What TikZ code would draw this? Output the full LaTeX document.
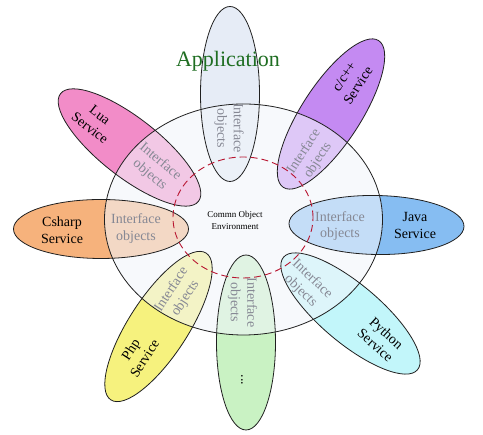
\documentclass[tikz,border=0pt]{standalone}
\usepackage{fontspec}
\setmainfont{Liberation Serif}
\usetikzlibrary{shapes.geometric}
\definecolor{ctop}{HTML}{E6ECF6}
\definecolor{ccpp}{HTML}{C48AF2}
\definecolor{clua}{HTML}{F28CC8}
\definecolor{ccs}{HTML}{F6B27C}
\definecolor{cjava}{HTML}{86BDF2}
\definecolor{cphp}{HTML}{F6F27E}
\definecolor{cdots}{HTML}{C9F2C3}
\definecolor{cpy}{HTML}{C2F6FA}
\definecolor{bigfill}{HTML}{F2F5FB}
\definecolor{ifgray}{HTML}{868894}
\definecolor{dashred}{HTML}{B81530}
\definecolor{appgreen}{HTML}{1F6E22}
\definecolor{outl}{HTML}{202020}
\begin{document}
\begin{tikzpicture}[x=1pt,y=1pt,
  petal/.style={ellipse, inner sep=0pt, outer sep=0pt, minimum width=175pt, minimum height=59pt},
  svc/.style={font=\fontsize{14}{16.5}\selectfont, align=center, text=black, inner sep=0pt},
  ifc/.style={font=\fontsize{14}{16.5}\selectfont, align=center, text=ifgray, inner sep=0pt},
]
\useasboundingbox (0,0) rectangle (483,435);
\fill[white] (0,0) rectangle (483,435);
% filled petals
\foreach \n/\x/\y/\a/\c in {top/230/341/90/ctop, cpp/331/321/57/ccpp, lua/129.5/287.5/-38/clua, cs/101/206/0/ccs, java/376.5/210/-1/cjava, php/158.5/108.5/57/cphp, dots/246/92.5/90/cdots, py/350.5/121.5/-40/cpy}
  \node[petal, fill=\c, rotate=\a] (\n-fill) at (\x,\y) {};
% common environment
\node[ellipse, inner sep=0pt, outer sep=0pt, minimum width=278pt, minimum height=231pt,
      fill=bigfill, fill opacity=0.58, draw=outl, draw opacity=1, line width=0.8pt] (env) at (243.5,215.5) {};
% petal outlines
\foreach \n/\x/\y/\a in {top/230/341/90, cpp/331/321/57, lua/129.5/287.5/-38, cs/101/206/0, java/376.5/210/-1, php/158.5/108.5/57, dots/246/92.5/90, py/350.5/121.5/-40}
  \node[petal, draw=outl, line width=0.8pt, rotate=\a] (\n) at (\x,\y) {};
% dashed core
\node[ellipse, inner sep=0pt, outer sep=0pt, minimum width=140pt, minimum height=121pt,
      draw=dashred, line width=0.9pt, dash pattern=on 7pt off 4pt] (core) at (243,217.5) {};
% texts
\node[font=\fontsize{22}{24}\selectfont, text=appgreen, inner sep=0pt] (app) at (228,374) {Application};
\node[font=\fontsize{9}{12}\selectfont, align=center, inner sep=0pt] (coe) at (235,215) {Commn Object\\Environment};
\node[ifc, rotate=-90] (ifc-top) at (229,307) {Interface\\objects};
\node[svc, rotate=57] (lbl-cpp) at (351,354) {c/c++\\Service};
\node[ifc, rotate=57] (ifc-cpp) at (311,279) {Interface\\objects};
\node[svc, rotate=-38] (lbl-lua) at (95,313.5) {Lua\\Service};
\node[ifc, rotate=-40] (ifc-lua) at (155,266.5) {Interface\\objects};
\node[svc] (lbl-cs) at (62,205) {Csharp\\Service};
\node[ifc] (ifc-cs) at (136,206.5) {Interface\\objects};
\node[svc] (lbl-java) at (415,209.5) {Java\\Service};
\node[ifc] (ifc-java) at (340,209) {Interface\\objects};
\node[svc, rotate=57] (lbl-php) at (137.5,81) {Php\\Service};
\node[ifc, rotate=57] (ifc-php) at (178.5,141) {Interface\\objects};
\node[ifc, rotate=-90] (ifc-dots) at (242.5,132.5) {Interface\\objects};
\node[svc, rotate=-90] (lbl-dots) at (242,55) {...};
\node[svc, rotate=-42] (lbl-py) at (381,96) {Python\\Service};
\node[ifc, rotate=-44] (ifc-py) at (306.5,150) {Interface\\objects};
\end{tikzpicture}
\end{document}
